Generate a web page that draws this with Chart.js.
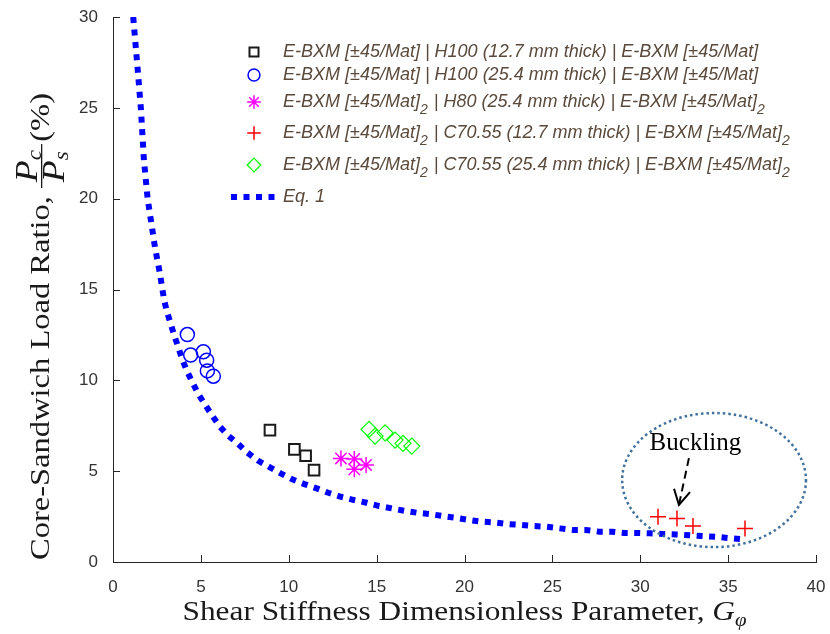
<!DOCTYPE html>
<html lang="en">
<head>
    <meta charset="UTF-8">
    <title>Core-Sandwich Load Ratio</title>
    <script src="https://cdn.jsdelivr.net/npm/chart.js"></script>
    <style>
        body { margin: 0; background: #fff; }
    </style>
</head>
<body>
    <canvas id="ratioChart" width="830" height="634"></canvas>

    <script>
        // Tick values
        const xTicks = [0, 5, 10, 15, 20, 25, 30, 35, 40];
        const yTicks = [0, 5, 10, 15, 20, 25, 30];

        // H100 (12.7 mm thick)
        const h100thinX = [8.93, 10.32, 10.96, 11.44];
        const h100thinY = [7.26, 6.20, 5.85, 5.06];

        // H100 (25.4 mm thick)
        const h100thickX = [4.23, 4.42, 5.14, 5.33, 5.37, 5.71];
        const h100thickY = [12.52, 11.39, 11.57, 11.11, 10.52, 10.23];

        // H80 (25.4 mm thick)
        const h80X = [12.97, 13.73, 13.73, 14.40];
        const h80Y = [5.70, 5.67, 5.10, 5.34];

        // C70.55 (12.7 mm thick)
        const c70thinX = [31.01, 32.09, 33.00, 35.96];
        const c70thinY = [2.49, 2.40, 1.98, 1.85];

        // C70.55 (25.4 mm thick)
        const c70thickX = [14.57, 14.91, 15.48, 16.05, 16.50, 17.00];
        const c70thickY = [7.30, 6.93, 7.11, 6.71, 6.53, 6.38];

        // Eq. 1 curve
        const eqX = [1.15, 1.41, 1.59, 1.76, 1.97, 2.39, 2.67, 2.90, 3.06, 3.28, 3.49, 3.72, 3.94, 4.21, 4.53,
            4.89, 5.25, 5.65, 6.09, 6.56, 7.13, 7.61, 8.27, 8.93, 9.54, 10.20, 10.89, 11.59, 12.25, 12.97,
            13.71, 14.43, 15.15, 15.86, 16.57, 17.31, 18.04, 18.76, 19.46, 20.26, 20.98, 21.74, 22.46, 23.20,
            23.91, 24.68, 25.43, 26.19, 26.90, 27.65, 28.38, 29.09, 29.85, 30.55, 31.31, 32.03, 32.83, 33.49,
            34.31, 35.00, 35.80];
        const eqY = [30.0, 27.05, 24.92, 22.11, 20.01, 17.31, 15.88, 14.47, 13.81, 13.13, 12.45, 11.81, 11.15, 10.51, 9.86,
            9.19, 8.64, 8.05, 7.44, 6.95, 6.49, 6.05, 5.57, 5.21, 4.88, 4.55, 4.29, 4.05, 3.81, 3.59,
            3.41, 3.26, 3.08, 2.95, 2.82, 2.71, 2.64, 2.53, 2.44, 2.31, 2.22, 2.18, 2.09, 2.04,
            1.98, 1.94, 1.85, 1.76, 1.76, 1.67, 1.67, 1.60, 1.60, 1.58, 1.54, 1.52, 1.47, 1.43,
            1.39, 1.32, 1.25];

        // Legend labels ("_2" marks a subscript)
        const legendLabels = [
            'E-BXM [±45/Mat] | H100 (12.7 mm thick) | E-BXM [±45/Mat]',
            'E-BXM [±45/Mat] | H100 (25.4 mm thick) | E-BXM [±45/Mat]',
            'E-BXM [±45/Mat]_2 | H80 (25.4 mm thick) | E-BXM [±45/Mat]_2',
            'E-BXM [±45/Mat]_2 | C70.55 (12.7 mm thick) | E-BXM [±45/Mat]_2',
            'E-BXM [±45/Mat]_2 | C70.55 (25.4 mm thick) | E-BXM [±45/Mat]_2',
            'Eq. 1'
        ];

        // Buckling annotation (data units)
        const bucklingCenter = [34.2, 4.51];
        const bucklingRadii = [5.23, 3.69];
        const bucklingText = [33.14, 6.53];
        const arrowFrom = [32.77, 5.72];
        const arrowTo = [32.20, 3.14];

        const pts = (xs, ys) => xs.map((x, i) => ({ x: x, y: ys[i] }));

        const datasets = [
            { data: pts(h100thinX, h100thinY), pointStyle: 'rect', pointRadius: 7.5, borderColor: '#1a1a1a', borderWidth: 2 },
            { data: pts(h100thickX, h100thickY), pointStyle: 'circle', pointRadius: 7, borderColor: '#0000ff', borderWidth: 1.5 },
            { data: pts(h80X, h80Y), pointStyle: 'star', pointRadius: 8, borderColor: '#ff00ff', borderWidth: 1.5 },
            { data: pts(c70thinX, c70thinY), pointStyle: 'cross', pointRadius: 8, borderColor: '#ff0000', borderWidth: 1.5 },
            { data: pts(c70thickX, c70thickY), pointStyle: 'rectRot', pointRadius: 8, borderColor: '#00ff00', borderWidth: 1.2 },
            { type: 'line', data: pts(eqX, eqY), showLine: true, pointRadius: 0, borderColor: '#0000ff',
              borderWidth: 6, borderDash: [6, 6.5], tension: 0 }
        ];
        datasets.forEach((ds, i) => {
            ds.label = legendLabels[i];
            ds.backgroundColor = 'rgba(0,0,0,0)';
            ds.order = datasets.length - i;
        });

        const SERIF = '"Liberation Serif", "Times New Roman", serif';
        const SANS = '"Liberation Sans", Arial, sans-serif';

        // Draw pieces of text one after the other: [text, style, size, dy]
        function runWidth(ctx, parts) {
            let w = 0;
            parts.forEach(p => { ctx.font = p[1] + ' ' + p[2] + 'px ' + SERIF; w += ctx.measureText(p[0]).width; });
            return w;
        }
        function drawRun(ctx, parts, x, y) {
            parts.forEach(p => {
                ctx.font = p[1] + ' ' + p[2] + 'px ' + SERIF;
                ctx.fillText(p[0], x, y + (p[3] || 0));
                x += ctx.measureText(p[0]).width;
            });
            return x;
        }

        const extras = {
            id: 'extras',
            afterDatasetsDraw(chart) {
                const { ctx, scales: { x, y } } = chart;
                ctx.save();

                // inward tick marks
                ctx.strokeStyle = '#262626';
                ctx.lineWidth = 1;
                ctx.beginPath();
                xTicks.forEach(v => {
                    const px = Math.round(x.getPixelForValue(v)) + 0.5;
                    ctx.moveTo(px, y.bottom);
                    ctx.lineTo(px, y.bottom - 7);
                });
                yTicks.forEach(v => {
                    const py = Math.round(y.getPixelForValue(v)) + 0.5;
                    ctx.moveTo(x.left, py);
                    ctx.lineTo(x.left + 7, py);
                });
                ctx.stroke();

                // dotted ellipse round the buckling points
                const cx = x.getPixelForValue(bucklingCenter[0]);
                const cy = y.getPixelForValue(bucklingCenter[1]);
                const rx = Math.abs(x.getPixelForValue(bucklingCenter[0] + bucklingRadii[0]) - cx);
                const ry = Math.abs(y.getPixelForValue(bucklingCenter[1] + bucklingRadii[1]) - cy);
                ctx.strokeStyle = '#41719c';
                ctx.lineWidth = 2.5;
                ctx.setLineDash([2.5, 3]);
                ctx.beginPath();
                ctx.ellipse(cx, cy, rx, ry, 0, 0, Math.PI * 2);
                ctx.stroke();

                // dashed arrow
                const ax0 = x.getPixelForValue(arrowFrom[0]), ay0 = y.getPixelForValue(arrowFrom[1]);
                const ax1 = x.getPixelForValue(arrowTo[0]), ay1 = y.getPixelForValue(arrowTo[1]);
                ctx.strokeStyle = '#000';
                ctx.lineWidth = 2;
                ctx.setLineDash([8, 5]);
                ctx.beginPath();
                ctx.moveTo(ax0, ay0);
                ctx.lineTo(ax1, ay1);
                ctx.stroke();
                const ang = Math.atan2(ay1 - ay0, ax1 - ax0);
                ctx.setLineDash([]);
                ctx.beginPath();
                ctx.moveTo(ax1 - 17 * Math.cos(ang - 0.5), ay1 - 17 * Math.sin(ang - 0.5));
                ctx.lineTo(ax1, ay1);
                ctx.lineTo(ax1 - 17 * Math.cos(ang + 0.5), ay1 - 17 * Math.sin(ang + 0.5));
                ctx.stroke();

                ctx.fillStyle = '#000';
                ctx.font = '25px ' + SERIF;
                ctx.textAlign = 'center';
                ctx.textBaseline = 'middle';
                ctx.fillText('Buckling', x.getPixelForValue(bucklingText[0]), y.getPixelForValue(bucklingText[1]));
                ctx.restore();
            },
            afterDraw(chart) {
                const { ctx, scales: { x, y } } = chart;
                ctx.save();

                // legend
                const rows = [52, 75, 102, 133, 165, 197];
                ctx.textBaseline = 'middle';
                chart.data.datasets.forEach((ds, i) => {
                    const ry = rows[i];
                    ctx.strokeStyle = ds.borderColor;
                    ctx.fillStyle = 'rgba(0,0,0,0)';
                    if (ds.type === 'line') {
                        ctx.lineWidth = ds.borderWidth;
                        ctx.setLineDash(ds.borderDash);
                        ctx.beginPath();
                        ctx.moveTo(231, ry);
                        ctx.lineTo(276, ry);
                        ctx.stroke();
                        ctx.setLineDash([]);
                    } else {
                        ctx.lineWidth = ds.borderWidth;
                        Chart.helpers.drawPoint(ctx, {
                            pointStyle: ds.pointStyle, radius: ds.pointRadius * 0.85,
                            rotation: 0, borderWidth: ds.borderWidth
                        }, 254, ry);
                    }
                    ctx.fillStyle = '#5a4a3c';
                    let tx = 283;
                    ds.label.split(/_(\d)/).forEach((p, k) => {
                        if (!p) return;
                        const sub = k % 2 === 1;
                        ctx.font = 'italic ' + (sub ? 14 : 18) + 'px ' + SANS;
                        ctx.fillText(p, tx, sub ? ry + 8 : ry);
                        tx += ctx.measureText(p).width + (sub ? 1 : 0);
                    });
                });

                // x axis title
                ctx.fillStyle = '#1a1a1a';
                ctx.textBaseline = 'alphabetic';
                const xParts = [['Shear Stiffness Dimensionless Parameter, ', 'normal', 27], ['G', 'italic', 27], ['φ', 'italic', 18, 6]];
                const xw = runWidth(ctx, xParts);
                const xTarget = 564;
                ctx.save();
                ctx.translate((x.left + x.right) / 2 - xTarget / 2, 620);
                ctx.scale(xTarget / xw, 1);
                drawRun(ctx, xParts, 0, 0);
                ctx.restore();

                // y axis title, rotated, with the Pc/Ps fraction
                const yParts = [['Core-Sandwich Load Ratio, ', 'normal', 28]];
                const yw = runWidth(ctx, yParts);
                const sy = 372 / yw;
                ctx.save();
                ctx.translate(49, 560);
                ctx.rotate(-Math.PI / 2);
                ctx.scale(sy, 1);
                let px = drawRun(ctx, yParts, 0, 0);
                const num = [['P', 'italic', 31], ['c', 'italic', 20, 4]];
                const den = [['P', 'italic', 31], ['s', 'italic', 20, 4]];
                const fw = Math.max(runWidth(ctx, num), runWidth(ctx, den)) + 10;
                drawRun(ctx, num, px + 5, -12);
                drawRun(ctx, den, px + 5, 15);
                ctx.fillRect(px, -8, fw, 1.3);
                drawRun(ctx, [['(%)', 'normal', 28]], px + fw + 2, 0);
                ctx.restore();

                ctx.restore();
            }
        };

        new Chart(document.getElementById('ratioChart'), {
            type: 'scatter',
            data: { datasets: datasets },
            options: {
                responsive: false,
                animation: false,
                layout: { padding: { top: 17, right: 14, left: 0, bottom: 0 } },
                plugins: {
                    legend: { display: false },
                    tooltip: { enabled: false }
                },
                scales: {
                    x: {
                        min: 0, max: 40,
                        afterFit: s => { s.height = 72; s.paddingLeft = 0; s.paddingRight = 0; },
                        afterBuildTicks: s => { s.ticks = xTicks.map(v => ({ value: v })); },
                        grid: { display: false },
                        border: { color: '#262626', width: 1 },
                        ticks: { color: '#333333', padding: 7, font: { family: SANS, size: 17 }, maxRotation: 0 }
                    },
                    y: {
                        min: 0, max: 30,
                        afterFit: s => { s.width = 113; s.paddingTop = 0; s.paddingBottom = 0; },
                        afterBuildTicks: s => { s.ticks = yTicks.map(v => ({ value: v })); },
                        grid: { display: false },
                        border: { color: '#262626', width: 1 },
                        ticks: { color: '#333333', padding: 7, font: { family: SANS, size: 17 } }
                    }
                }
            },
            plugins: [extras]
        });
    </script>
</body>
</html>
